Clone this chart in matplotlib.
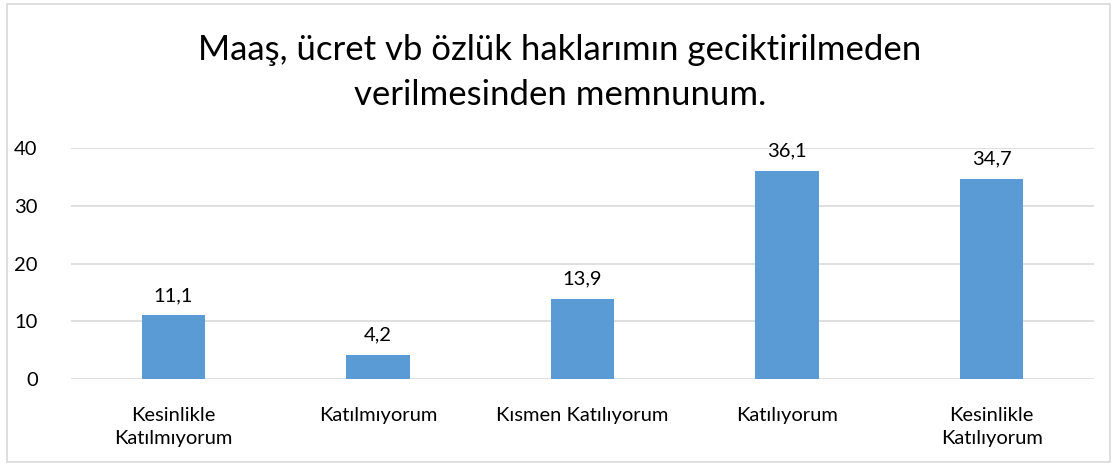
import matplotlib.pyplot as plt
from matplotlib.patches import Rectangle

# data
categories = ['Kesinlikle\nKatılmıyorum', 'Katılmıyorum', 'Kısmen Katılıyorum',
              'Katılıyorum', 'Kesinlikle\nKatılıyorum']
values = [11.1, 4.2, 13.9, 36.1, 34.7]
value_labels = ['11,1', '4,2', '13,9', '36,1', '34,7']
yticks = [0, 10, 20, 30, 40]

plt.rcParams['font.family'] = ['Lato', 'DejaVu Sans']

fig = plt.figure(figsize=(11.2, 4.71), dpi=100)
ax = fig.add_axes([0.0634, 0.1953, 0.9134, 0.4905])

x = list(range(len(categories)))
ax.bar(x, values, width=0.31, color='#5B9BD5', zorder=3)
for xi, v, lab in zip(x, values, value_labels):
    ax.text(xi, v + 1.9, lab, ha='center', va='bottom', fontsize=14.5, clip_on=False)

ax.set_xlim(-0.5, len(categories) - 0.5)
ax.set_ylim(0, 40)
ax.set_yticks(yticks)
ax.set_yticklabels([str(t) for t in yticks], fontsize=14.5)
ax.set_xticks(x)
ax.set_xticklabels(categories, fontsize=14.5, linespacing=1.45)
ax.tick_params(axis='y', length=0, pad=24)
ax.tick_params(axis='x', length=0, pad=20)
ax.grid(axis='y', color='#D9D9D9', linewidth=1.2, zorder=0)
for s in ax.spines.values():
    s.set_visible(False)

fig.text(0.5, 0.847, 'Maaş, ücret vb özlük haklarımın geciktirilmeden\nverilmesinden memnunum.',
         ha='center', va='center', fontsize=25, linespacing=1.5)

# outer chart border
fig.patches.append(Rectangle((0.0065, 0.019), 0.9845, 0.973, transform=fig.transFigure,
                             fill=False, edgecolor='#D9D9D9', linewidth=1.2))

fig.savefig('out.png', dpi=100)
